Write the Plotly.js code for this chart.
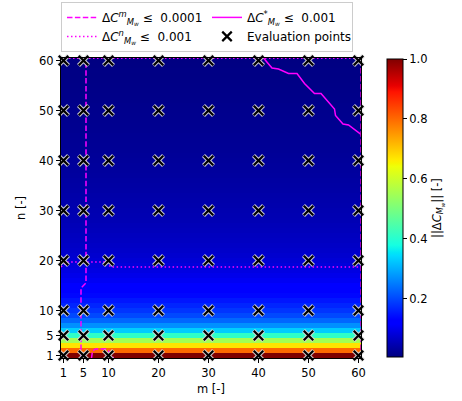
<!DOCTYPE html>
<html>
<head>
<meta charset="utf-8">
<script src="https://cdn.plot.ly/plotly-3.0.1.min.js"></script>
<style>
  html, body { margin: 0; padding: 0; background: #fff; }
  #chart { width: 462px; height: 401px; }
</style>
</head>
<body>
<div id="chart"></div>
<script>
// Grid rows (n) and the norm of the change for each row
const nRows = [1,2,3,4,5,6,7,8,9,10,11,12,13,14,15,16,17,18,19,20,
               21,22,23,24,25,26,27,28,29,30,31,32,33,34,35,36,37,38,39,40,
               41,42,43,44,45,46,47,48,49,50,51,52,53,54,55,56,57,58,59,60];
const deltaNorm = [1.00,0.80,0.67,0.55,0.41,0.33,0.27,0.23,0.20,0.18,
                   0.165,0.150,0.135,0.125,0.115,0.105,0.097,0.090,0.084,0.078,
                   0.073,0.069,0.065,0.062,0.059,0.056,0.053,0.050,0.048,0.046,
                   0.044,0.042,0.040,0.038,0.036,0.034,0.032,0.030,0.029,0.027,
                   0.026,0.024,0.023,0.022,0.021,0.020,0.019,0.018,0.017,0.016,
                   0.015,0.014,0.013,0.012,0.011,0.010,0.009,0.009,0.008,0.007];
// Column extent of the map (edges in m)
const mEdges = [0.5, 60.5];

// Evaluation grid
const evalM = [1,5,10,20,30,40,50,60];
const evalN = [1,5,10,20,30,40,50,60];

// Threshold contours
const contourM_m = [4.5, 4.5, 5.5, 5.5];
const contourM_n = [0.5, 14.5, 15.5, 60.5];
const contourM2_m = [6.6, 6.8, 7.4, 9.4, 10.0, 11.0];
const contourM2_n = [0.5, 1.9, 2.3, 2.3, 1.9, 0.5];
const contourMEdge_m = [60.45, 60.45];
const contourMEdge_n = [0.5, 60.5];

const contourN_m = [0.5, 1.7, 9.7, 10.4, 60.5];
const contourN_n = [18.7, 19.7, 19.7, 18.7, 18.7];
const contourNTop_m = [0.5, 60.5];
const contourNTop_n = [60.4, 60.4];

const contourStar_m = [41, 42.7, 44.0, 46.0, 47.7, 49.2, 51.2, 52.5, 55.2, 55.4, 56.9, 58.0, 60.5];
const contourStar_n = [60.5, 58.5, 58.3, 57.4, 57.4, 55.4, 53.4, 53.4, 50.3, 49.0, 47.3, 47.1, 45.2];

const tickVals = [1,5,10,20,30,40,50,60];
const cbTicks = [0.2,0.4,0.6,0.8,1.0];

// matplotlib "jet"
const jet = [
  [0.0, 'rgb(0,0,128)'],
  [0.11, 'rgb(0,0,255)'],
  [0.125, 'rgb(0,0,255)'],
  [0.34, 'rgb(0,219,255)'],
  [0.35, 'rgb(0,230,247)'],
  [0.375, 'rgb(21,255,226)'],
  [0.64, 'rgb(239,255,8)'],
  [0.65, 'rgb(247,245,0)'],
  [0.66, 'rgb(255,236,0)'],
  [0.89, 'rgb(255,19,0)'],
  [0.91, 'rgb(232,0,0)'],
  [1.0, 'rgb(128,0,0)']
];

const FONT = 'DejaVu Sans, sans-serif';
const FS = 11.5;
const MAG = '#ff00ff';

const ex = [], ey = [];
evalM.forEach(m => evalN.forEach(n => { ex.push(m); ey.push(n); }));

const dashed = '5.5px,2.4px';
const dotted = '1.5px,2.5px';

const traces = [
  {
    type: 'heatmap',
    x: mEdges,
    y: nRows,
    z: deltaNorm.map(v => [v]),
    zmin: 0.005, zmax: 1.0,
    colorscale: jet,
    zsmooth: false,
    showlegend: false,
    hoverinfo: 'skip',
    colorbar: {
      x: 1.0867, xanchor: 'left', xpad: 0,
      y: 0.5, yanchor: 'middle', ypad: 0,
      len: 0.993, lenmode: 'fraction',
      thickness: 16, thicknessmode: 'pixels',
      outlinewidth: 1, outlinecolor: '#000',
      ticks: 'outside', ticklen: 4, tickwidth: 1, tickcolor: '#000',
      tickvals: cbTicks, ticktext: cbTicks.map(v => v.toFixed(1)),
      tickfont: { family: FONT, size: FS, color: '#000' },
      title: { text: '||Δ<i>C</i><sub><i>M<sub>w</sub></i></sub>|| [-]', side: 'right',
               font: { family: FONT, size: FS, color: '#000' } }
    }
  },
  { type: 'scatter', mode: 'lines', x: contourM_m, y: contourM_n,
    line: { color: MAG, width: 1.5, dash: dashed }, legendrank: 1,
    name: 'Δ<i>C</i><sup><i>m</i></sup><sub><i>M<sub>w</sub></i></sub> ≤  0.0001', hoverinfo: 'skip' },
  { type: 'scatter', mode: 'lines', x: contourStar_m, y: contourStar_n,
    line: { color: MAG, width: 1.5 }, legendrank: 2,
    name: 'Δ<i>C</i><sup>*</sup><sub><i>M<sub>w</sub></i></sub> ≤  0.001', hoverinfo: 'skip' },
  { type: 'scatter', mode: 'lines', x: contourN_m, y: contourN_n,
    line: { color: MAG, width: 1.5, dash: dotted }, legendrank: 3,
    name: 'Δ<i>C</i><sup><i>n</i></sup><sub><i>M<sub>w</sub></i></sub> ≤  0.001', hoverinfo: 'skip' },
  { type: 'scatter', mode: 'lines', x: contourM2_m, y: contourM2_n,
    line: { color: MAG, width: 1.5, dash: dashed },
    showlegend: false, hoverinfo: 'skip' },
  { type: 'scatter', mode: 'lines', x: contourMEdge_m, y: contourMEdge_n,
    line: { color: 'rgba(200,0,200,0.8)', width: 1.5, dash: dashed },
    showlegend: false, hoverinfo: 'skip' },
  { type: 'scatter', mode: 'lines', x: contourNTop_m, y: contourNTop_n,
    line: { color: MAG, width: 1.2, dash: dotted },
    showlegend: false, hoverinfo: 'skip' },
  { type: 'scatter', mode: 'markers', x: ex, y: ey,
    marker: { symbol: 'x-thin', size: 10, line: { color: 'rgba(215,215,215,0.95)', width: 4.2 } },
    showlegend: false, hoverinfo: 'skip', cliponaxis: false },
  { type: 'scatter', mode: 'markers', x: ex, y: ey,
    marker: { symbol: 'x-thin', size: 9.5, color: '#000', line: { color: '#000', width: 2.2 } },
    name: 'Evaluation points', legendrank: 4, hoverinfo: 'skip', cliponaxis: false }
];

const axisCommon = {
  tickvals: tickVals,
  ticks: 'outside', ticklen: 4, tickwidth: 1, tickcolor: '#000',
  showline: true, linecolor: '#000', linewidth: 1, mirror: true,
  showgrid: false, zeroline: false,
  tickfont: { family: FONT, size: FS, color: '#000' }
};

const layout = {
  width: 462, height: 401,
  margin: { l: 61, r: 101, t: 58, b: 43, pad: 0, autoexpand: false },
  paper_bgcolor: '#fff', plot_bgcolor: '#fff',
  font: { family: FONT, size: FS, color: '#000' },
  xaxis: Object.assign({}, axisCommon, {
    range: [0.5, 60.5],
    title: { text: 'm [-]', font: { family: FONT, size: FS, color: '#000' }, standoff: 6 }
  }),
  yaxis: Object.assign({}, axisCommon, {
    range: [0.5, 60.5],
    title: { text: 'n [-]', font: { family: FONT, size: FS, color: '#000' }, standoff: 11 }
  }),
  legend: {
    orientation: 'h',
    x: 0.0, xanchor: 'left',
    y: 1.187, yanchor: 'top',
    bgcolor: '#fff', bordercolor: '#cccccc', borderwidth: 1,
    font: { family: FONT, size: 12, color: '#000' },
    entrywidth: 100, entrywidthmode: 'pixels',
    traceorder: 'normal'
  },
  showlegend: true
};

Plotly.newPlot('chart', traces, layout, { displayModeBar: false, staticPlot: true });
</script>
</body>
</html>
